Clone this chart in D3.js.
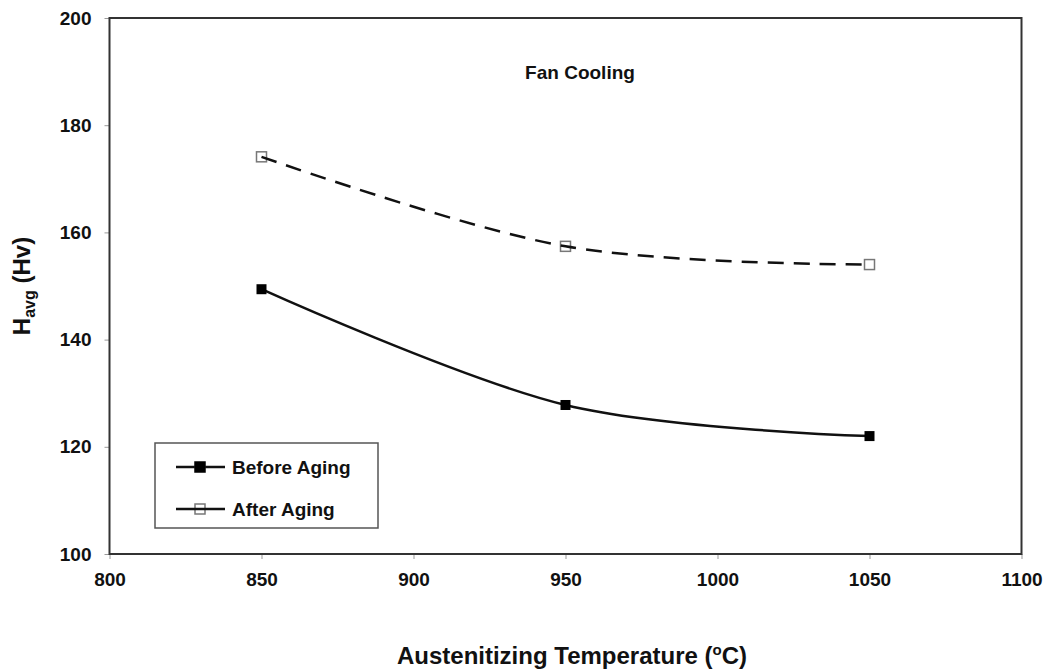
<!DOCTYPE html>
<html>
<head>
<meta charset="utf-8">
<script src="https://cdn.jsdelivr.net/npm/d3@7"></script>
<style>
  body { margin: 0; background: #fff; }
  text { font-family: "Liberation Sans", Arial, sans-serif; font-weight: bold; fill: #111; }
</style>
</head>
<body>
<div id="chart"></div>
<script>
// Data
var temps = [850, 950, 1050];
var beforeAging = [149.4, 127.8, 122.0];
var afterAging = [174.1, 157.4, 154.0];
var xTicks = [800, 850, 900, 950, 1000, 1050, 1100];
var yTicks = [100, 120, 140, 160, 180, 200];

var W = 1049, H = 670;
var plotL = 109.5, plotT = 18, plotR = 1021.5, plotB = 554;

var svg = d3.select("#chart").append("svg")
    .attr("width", W)
    .attr("height", H);

var x = d3.scaleLinear().domain([800, 1100]).range([plotL, plotR]);
var y = d3.scaleLinear().domain([100, 200]).range([plotB, plotT]);

// Axes with small outside ticks
var xAxis = svg.append("g")
    .attr("transform", "translate(0," + plotB + ")")
    .call(d3.axisBottom(x).tickValues(xTicks).tickSize(5).tickPadding(14).tickFormat(d3.format("d")));
var yAxis = svg.append("g")
    .attr("transform", "translate(" + plotL + ",0)")
    .call(d3.axisLeft(y).tickValues(yTicks).tickSize(5).tickPadding(13).tickFormat(d3.format("d")));

[xAxis, yAxis].forEach(function(g) {
    g.select(".domain").remove();
    g.selectAll(".tick line").attr("stroke", "#999").attr("stroke-width", 1);
    g.selectAll(".tick text")
        .style("font-size", "19px")
        .style("font-family", "'Liberation Sans', Arial, sans-serif")
        .style("font-weight", "bold")
        .attr("fill", "#111");
});

// Plot frame
svg.append("rect")
    .attr("x", plotL).attr("y", plotT)
    .attr("width", plotR - plotL).attr("height", plotB - plotT)
    .attr("fill", "none")
    .attr("stroke", "#333")
    .attr("stroke-width", 2);

var line = d3.line()
    .x(function(d) { return x(d[0]); })
    .y(function(d) { return y(d[1]); })
    .curve(d3.curveCardinal.tension(0));

var beforePts = temps.map(function(t, i) { return [t, beforeAging[i]]; });
var afterPts = temps.map(function(t, i) { return [t, afterAging[i]]; });

var ms = 10;
// open markers first so the dashed line shows through them
svg.selectAll(".after").data(afterPts).enter().append("rect")
    .attr("x", function(d) { return x(d[0]) - ms / 2; })
    .attr("y", function(d) { return y(d[1]) - ms / 2; })
    .attr("width", ms).attr("height", ms)
    .attr("fill", "#fff").attr("stroke", "#777").attr("stroke-width", 1.5);

svg.append("path")
    .datum(afterPts)
    .attr("d", line)
    .attr("fill", "none")
    .attr("stroke", "#111")
    .attr("stroke-width", 2.5)
    .attr("stroke-dasharray", "16,10");

svg.append("path")
    .datum(beforePts)
    .attr("d", line)
    .attr("fill", "none")
    .attr("stroke", "#111")
    .attr("stroke-width", 2.5);

svg.selectAll(".before").data(beforePts).enter().append("rect")
    .attr("x", function(d) { return x(d[0]) - ms / 2; })
    .attr("y", function(d) { return y(d[1]) - ms / 2; })
    .attr("width", ms).attr("height", ms)
    .attr("fill", "#000");

// Title inside the plot
svg.append("text")
    .attr("x", 580).attr("y", 79)
    .attr("text-anchor", "middle")
    .style("font-size", "19px")
    .text("Fan Cooling");

// Legend
var lg = svg.append("g");
lg.append("rect")
    .attr("x", 155).attr("y", 443).attr("width", 223).attr("height", 85)
    .attr("fill", "#fff").attr("stroke", "#555").attr("stroke-width", 1.5);
var items = [
    { name: "Before Aging", fill: "#000", stroke: "#000", yy: 467 },
    { name: "After Aging", fill: "#fff", stroke: "#777", yy: 509 }
];
items.forEach(function(it) {
    lg.append("rect")
        .attr("x", 200 - ms / 2).attr("y", it.yy - ms / 2)
        .attr("width", ms).attr("height", ms)
        .attr("fill", it.fill).attr("stroke", it.stroke).attr("stroke-width", 1.5);
    lg.append("line")
        .attr("x1", 176).attr("x2", 225).attr("y1", it.yy).attr("y2", it.yy)
        .attr("stroke", "#111").attr("stroke-width", 2.5);
    if (it.fill === "#000") {
        lg.append("rect")
            .attr("x", 200 - ms / 2).attr("y", it.yy - ms / 2)
            .attr("width", ms).attr("height", ms)
            .attr("fill", "#000");
    }
    lg.append("text")
        .attr("x", 232).attr("y", it.yy + 7)
        .style("font-size", "19px")
        .text(it.name);
});

// Axis titles
var xt = svg.append("text")
    .attr("x", 572).attr("y", 664)
    .attr("text-anchor", "middle")
    .style("font-size", "24px");
xt.append("tspan").text("Austenitizing Temperature (");
xt.append("tspan").attr("dy", -9).style("font-size", "15px").text("o");
xt.append("tspan").attr("dy", 9).text("C)");

var yt = svg.append("text")
    .attr("transform", "translate(30," + (plotT + plotB) / 2 + ") rotate(-90)")
    .attr("text-anchor", "middle")
    .style("font-size", "24px");
yt.append("tspan").text("H");
yt.append("tspan").attr("dy", 5).style("font-size", "16px").text("avg");
yt.append("tspan").attr("dy", -5).text(" (Hv)");
</script>
</body>
</html>
